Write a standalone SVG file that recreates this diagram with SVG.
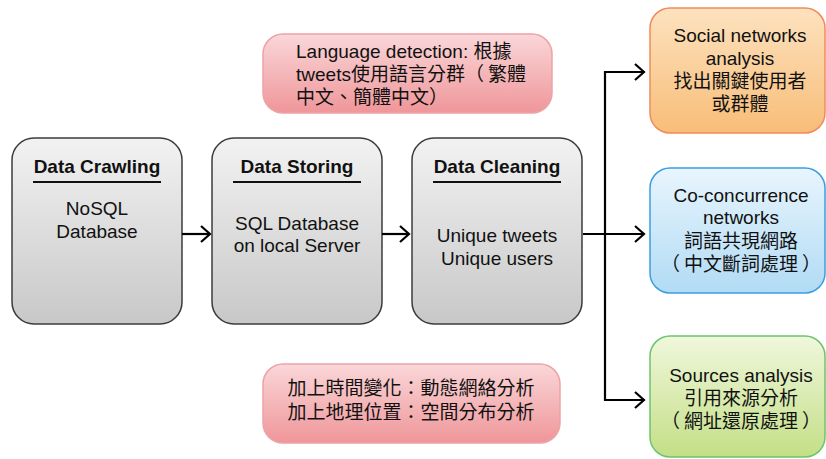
<svg xmlns="http://www.w3.org/2000/svg" width="826" height="459" viewBox="0 0 826 459">
<defs>
<linearGradient id="gGray" x1="0" y1="0" x2="0" y2="1"><stop offset="0" stop-color="#f2f2f2"/><stop offset="1" stop-color="#c8c8c8"/></linearGradient>
<linearGradient id="gPink" x1="0" y1="0" x2="0" y2="1"><stop offset="0" stop-color="#fad7d9"/><stop offset="1" stop-color="#ef9699"/></linearGradient>
<linearGradient id="gOrange" x1="0" y1="0" x2="0" y2="1"><stop offset="0" stop-color="#fde2bf"/><stop offset="1" stop-color="#f8bd78"/></linearGradient>
<linearGradient id="gBlue" x1="0" y1="0" x2="0" y2="1"><stop offset="0" stop-color="#e8f5fd"/><stop offset="1" stop-color="#b1dbf5"/></linearGradient>
<linearGradient id="gGreen" x1="0" y1="0" x2="0" y2="1"><stop offset="0" stop-color="#f0f7dc"/><stop offset="1" stop-color="#c3df86"/></linearGradient>
<marker id="arr" markerUnits="userSpaceOnUse" markerWidth="14" markerHeight="20" refX="11" refY="10" orient="auto">
<path d="M2,2 L11,10 L2,18" fill="none" stroke="#000" stroke-width="2.2"/>
</marker>
</defs>
<style>
text{font-family:"Liberation Sans",Arial,"Noto Sans CJK TC",sans-serif;font-size:19px;fill:#111;}
.h{font-weight:bold;font-size:19px;}
.c{text-anchor:middle;}
.cj{font-size:19px;}
.gray{fill:url(#gGray);stroke:#3c3c3c;stroke-width:1.5;}
.pink{fill:url(#gPink);stroke:#eda3a6;stroke-width:1.5;}
.orange{fill:url(#gOrange);stroke:#f08a5c;stroke-width:1.5;}
.blue{fill:url(#gBlue);stroke:#3a9fe0;stroke-width:1.5;}
.green{fill:url(#gGreen);stroke:#6cc46c;stroke-width:1.5;}
.ul{stroke:#111;stroke-width:2;}
.conn path{fill:none;stroke:#000;stroke-width:2.2;}
</style>

<g id="crawling">
<rect class="gray" x="12" y="138" width="170" height="186" rx="22"/>
<text class="h c" x="97" y="173">Data Crawling</text>
<line class="ul" x1="33" y1="182" x2="161" y2="182"/>
<text class="c" x="97" y="215">NoSQL</text>
<text class="c" x="97" y="238">Database</text>
</g>

<g id="storing">
<rect class="gray" x="212" y="138" width="170" height="186" rx="22"/>
<text class="h c" x="297" y="173">Data Storing</text>
<line class="ul" x1="233" y1="182" x2="361" y2="182"/>
<text class="c" x="297" y="230">SQL Database</text>
<text class="c" x="297" y="252">on local Server</text>
</g>

<g id="cleaning">
<rect class="gray" x="412" y="138" width="170" height="186" rx="22"/>
<text class="h c" x="497" y="173">Data Cleaning</text>
<line class="ul" x1="433" y1="182" x2="561" y2="182"/>
<text class="c" x="497" y="242">Unique tweets</text>
<text class="c" x="497" y="265">Unique users</text>
</g>

<g id="language">
<rect class="pink" x="263" y="34" width="289" height="79" rx="20"/>
<text x="296" y="58">Language detection: 根據</text>
<text x="296" y="81">tweets使用語言分群（<tspan dx="4">繁體</tspan></text>
<text x="296" y="104">中文、簡體中文）</text>
</g>

<g id="timegeo">
<rect class="pink" x="263" y="364" width="297" height="79" rx="20"/>
<text class="c" x="411" y="395">加上時間變化：動態網絡分析</text>
<text class="c" x="411" y="419">加上地理位置：空間分布分析</text>
</g>

<g id="social">
<rect class="orange" x="650" y="8" width="175" height="125" rx="20"/>
<text class="c" x="740" y="42">Social networks</text>
<text class="c" x="740" y="65">analysis</text>
<text class="c" x="740" y="88">找出關鍵使用者</text>
<text class="c" x="740" y="111">或群體</text>
</g>

<g id="cooccurrence">
<rect class="blue" x="650" y="168" width="175" height="125" rx="20"/>
<text class="c" x="741" y="202">Co-concurrence</text>
<text class="c" x="741" y="224">networks</text>
<text class="c" x="741" y="248">詞語共現網路</text>
<text class="c" x="741" y="271">（<tspan dx="4">中文斷詞處理</tspan><tspan dx="4">）</tspan></text>
</g>

<g id="sources">
<rect class="green" x="650" y="336" width="175" height="121" rx="20"/>
<text class="c" x="741" y="382">Sources analysis</text>
<text class="c" x="741" y="405">引用來源分析</text>
<text class="c" x="741" y="428">（<tspan dx="4">網址還原處理</tspan><tspan dx="4">）</tspan></text>
</g>

<g id="connectors" class="conn">
<path d="M182,234 H210" marker-end="url(#arr)"/>
<path d="M382,234 H409" marker-end="url(#arr)"/>
<path d="M583,234 H644" marker-end="url(#arr)"/>
<path d="M605,234 V72 H644" marker-end="url(#arr)"/>
<path d="M605,234 V400 H644" marker-end="url(#arr)"/>
</g>
</svg>
